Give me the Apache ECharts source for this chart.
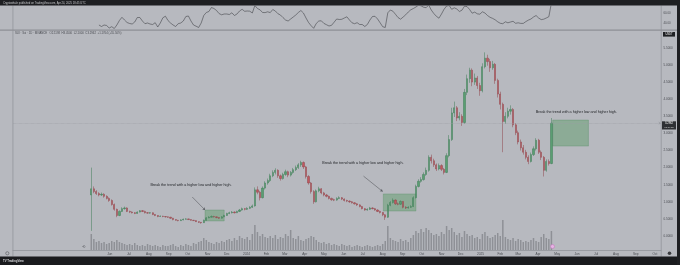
<!DOCTYPE html>
<html><head><meta charset="utf-8">
<script src="https://cdn.jsdelivr.net/npm/echarts@6/dist/echarts.min.js"></script>
<style>html,body{margin:0;padding:0;background:#b7b9bf;}#c{width:680px;height:265px;}</style>
</head><body><div id="c"></div>
<script>
// ---------- data ----------
const axisStart = '2023-01-01';
const axisEnd = '2025-10-10';
const firstCandleDate = '2023-05-03';
const candleStepDays = 4;
const firstOpen = 1.20;
const closes = [
1.38,1.30,1.24,1.20,1.22,1.16,1.10,1.04,0.92,0.78,
0.60,0.72,0.80,0.82,0.72,0.70,0.68,0.66,0.70,0.74,
0.72,0.68,0.67,0.68,0.63,0.60,0.57,0.58,0.57,0.56,
0.55,0.52,0.48,0.46,0.45,0.47,0.49,0.50,0.48,0.46,
0.45,0.42,0.40,0.39,0.46,0.53,0.55,0.57,0.56,0.54,
0.52,0.56,0.60,0.66,0.68,0.70,0.68,0.72,0.76,0.80,
0.78,0.81,0.84,0.88,1.35,1.28,1.12,1.40,1.55,1.62,
1.76,1.86,1.92,1.76,1.68,1.80,1.88,1.78,1.86,1.94,
2.00,2.08,2.15,2.02,1.74,1.55,1.30,1.00,1.32,1.38,
1.26,1.20,1.16,1.10,1.06,1.05,1.10,1.12,1.08,1.04,
1.02,1.00,0.97,0.94,0.91,0.86,0.80,0.76,0.78,0.82,
0.80,0.76,0.72,0.69,0.62,0.55,0.90,0.98,1.05,0.94,
0.93,1.01,0.84,0.82,0.84,0.86,1.12,1.45,1.60,1.65,
1.80,1.92,2.30,2.20,2.08,1.96,2.06,1.95,1.86,2.35,
2.82,3.60,3.75,3.45,3.50,3.32,4.20,4.60,4.85,4.50,
4.62,4.40,4.25,4.95,5.20,5.10,4.92,5.02,4.55,4.15,
3.85,3.35,3.50,3.65,3.70,3.25,3.02,2.75,2.58,2.45,
2.30,2.18,2.38,2.55,2.80,2.45,2.30,1.92,2.18,2.12,
3.30];
const highs = [
2.00,1.45,1.34,1.28,1.27,1.25,1.19,1.13,1.07,0.95,
0.80,0.75,0.84,0.86,0.84,0.74,0.72,0.70,0.72,0.76,
0.76,0.74,0.70,0.70,0.69,0.64,0.61,0.60,0.59,0.58,
0.57,0.56,0.53,0.49,0.47,0.49,0.51,0.52,0.51,0.49,
0.47,0.46,0.43,0.41,0.48,0.55,0.58,0.60,0.59,0.57,
0.55,0.58,0.62,0.68,0.71,0.73,0.72,0.74,0.79,0.83,
0.82,0.84,0.87,0.92,1.42,1.45,1.32,1.45,1.60,1.68,
1.82,1.92,1.98,1.95,1.80,1.85,1.94,1.91,1.90,1.99,
2.06,2.13,2.20,2.18,2.05,1.78,1.58,1.34,1.36,1.44,
1.40,1.29,1.23,1.18,1.12,1.09,1.13,1.16,1.14,1.10,
1.06,1.04,1.02,0.99,0.96,0.93,0.88,0.82,0.81,0.85,
0.84,0.82,0.78,0.74,0.70,0.64,0.94,1.02,1.10,1.07,
0.98,1.04,1.02,0.87,0.87,0.90,1.16,1.50,1.66,1.72,
1.86,2.00,2.36,2.38,2.26,2.12,2.12,2.10,1.99,2.42,
2.95,3.75,3.93,3.80,3.62,3.56,4.30,4.72,4.92,4.90,
4.75,4.68,4.48,5.05,5.37,5.30,5.18,5.12,5.06,4.60,
4.22,3.90,3.62,3.75,3.82,3.74,3.30,3.08,2.82,2.66,
2.52,2.36,2.44,2.62,2.86,2.84,2.50,2.34,2.24,2.24,
3.45];
const lows = [
0.15,1.25,1.20,1.16,1.17,1.12,1.07,1.00,0.89,0.74,
0.55,0.58,0.70,0.77,0.70,0.67,0.66,0.64,0.65,0.69,
0.70,0.66,0.65,0.65,0.61,0.58,0.55,0.56,0.55,0.54,
0.53,0.50,0.46,0.45,0.43,0.44,0.46,0.48,0.47,0.45,
0.44,0.41,0.38,0.36,0.38,0.45,0.52,0.54,0.54,0.52,
0.50,0.51,0.55,0.59,0.64,0.66,0.66,0.67,0.70,0.74,
0.75,0.76,0.79,0.82,0.86,1.22,1.04,1.10,1.36,1.50,
1.58,1.72,1.80,1.70,1.62,1.65,1.76,1.72,1.74,1.82,
1.90,1.96,2.02,1.96,1.68,1.50,1.24,0.94,0.98,1.28,
1.22,1.16,1.13,1.07,1.03,1.02,1.03,1.08,1.05,1.01,
0.99,0.97,0.95,0.92,0.88,0.84,0.78,0.74,0.74,0.76,
0.78,0.74,0.70,0.66,0.58,0.47,0.53,0.87,0.95,0.91,
0.90,0.91,0.81,0.79,0.80,0.82,0.85,1.10,1.42,1.56,
1.62,1.76,1.88,2.12,2.02,1.90,1.92,1.90,1.80,1.84,
2.30,2.78,3.48,3.36,3.38,3.22,3.28,4.12,4.48,4.38,
4.42,4.30,4.10,4.20,4.90,4.98,4.80,4.86,4.45,4.05,
3.70,2.45,3.28,3.44,3.55,3.18,2.95,2.68,2.50,2.38,
2.24,2.10,2.15,2.34,2.50,2.40,2.22,1.74,1.88,2.06,
2.10];
const volumes = [
16,11,8,9,7,8,6,7,9,8,
10,8,7,6,5,6,5,7,5,4,
5,4,6,5,4,5,4,3,5,4,
4,5,6,4,3,5,4,6,5,4,
7,6,8,9,12,10,8,7,6,8,
7,9,8,10,11,9,12,10,14,12,
11,13,10,16,25,18,14,16,13,12,
14,12,15,11,13,12,16,14,20,12,
11,14,10,9,11,12,14,13,10,8,
7,8,6,7,5,6,5,4,6,5,
4,5,3,4,5,4,3,4,5,4,
3,4,5,4,6,9,24,12,10,9,
8,11,9,10,8,12,15,19,17,21,
18,22,20,17,15,16,14,18,16,24,
20,22,18,15,17,13,19,16,14,15,
12,13,11,16,18,14,12,13,15,17,
14,30,13,11,10,12,9,11,10,8,
9,8,10,12,9,8,13,16,12,11,
19];
const rsiStartCandle = 3;
const rsiValues = [
36,33,36,35,30,32.6,29,
36,45,51.4,46,41,39,38,42,51,51,
44,38.6,40,38,37,40.6,32,40,50.4,53.6,
45,40,36,33,38.6,40,44,53,54,44,
36,33.6,31,40,55,61,63,71,69,65,
58.8,56.4,58,58,57,60.4,55,58,64,67.4,
63.4,64,63.6,60,75,69,66.4,61,60.8,62.4,
60.8,67,64,58.6,56,50.8,46,44,48,52,
56,61,65,60,50,41,34.6,29.4,39,44,
44.4,39.2,36.6,34,35.4,41.6,48,47,47.4,50,
52.4,46,40.4,38.6,40.6,37,37,33,37,46,
53,53.4,48,40.4,32.6,31,60.4,66,63.6,57.4,
51,47.6,52,56.4,62,66.4,69,72,75.6,74.4,
71.6,70.6,76,66,59,53.4,49.6,58,67.4,74,
75,67.4,70.4,68,63,65.6,73.6,72.8,67,59.6,
61.8,58.4,57.6,62.4,60,55,51.4,49.2,46.4,42.4,
39.4,38.6,42.4,40.4,42,43.4,39.4,40.4,39.2,39.2,
42.8,45.8,48,52,55,50,46.8,47.6,50,52.6,
80];
const monthNames = ['Jan','Feb','Mar','Apr','May','Jun','Jul','Aug','Sep','Oct','Nov','Dec'];
const firstLabelDate = '2023-06-01';
const noteText = 'Break the trend with a higher low and higher high.';
const boxes = [
  {from:'2023-10-28', to:'2023-11-27', low:0.44, high:0.76},
  {from:'2024-08-02', to:'2024-09-22', low:0.73, high:1.23},
  {from:'2025-04-24', to:'2025-06-19', low:2.63, high:3.39}
];
const notes = [
  {date:'2023-10-06', price:1.49},
  {date:'2024-07-01', price:2.13},
  {date:'2025-05-31', price:3.63}
];
const arrows = [
  {from:['2023-10-08',1.14], to:['2023-10-28',0.76]},
  {from:['2024-07-02',1.75], to:['2024-08-01',1.30]}
];
const lastPrice = 3.2962;
const rsiLabels = ['60.00','40.00'];

// ---------- build ----------
const DAY = 86400000;
const t0 = Date.parse(axisStart + 'T00:00:00Z');
const nDays = Math.round((Date.parse(axisEnd + 'T00:00:00Z') - t0) / DAY) + 1;
const categories = [];
for (let k = 0; k < nDays; k++) categories.push(new Date(t0 + k * DAY).toISOString().slice(0, 10));
const idx = s => Math.round((Date.parse(s + 'T00:00:00Z') - t0) / DAY);
const k0 = idx(firstCandleDate);
const kLabel = idx(firstLabelDate);
const candleData = closes.map((c, i) => [k0 + i * candleStepDays, i === 0 ? firstOpen : closes[i - 1], c, lows[i], highs[i]]);
const volData = volumes.map((v, i) => [k0 + i * candleStepDays, v]);
const rsiData = rsiValues.map((v, j) => [k0 + (rsiStartCandle + j) * candleStepDays, v]);

const FONT = 'Liberation Sans, Arial, sans-serif';
const chart = echarts.init(document.getElementById('c'), null, {renderer: 'canvas'});
const gridCommon = {left: 13, right: 19, outerBoundsMode: 'none', containLabel: false};
const hiddenX = gi => ({type: 'category', gridIndex: gi, data: categories, show: false, boundaryGap: true});

chart.setOption({
  animation: false,
  backgroundColor: '#b7b9bf',
  textStyle: {fontFamily: FONT},
  grid: [
    Object.assign({top: 30.8, height: 222.3}, gridCommon),
    Object.assign({top: 190, height: 60}, gridCommon),
    Object.assign({top: 6, height: 23.5}, gridCommon)
  ],
  xAxis: [
    hiddenX(0),
    {type: 'category', gridIndex: 1, data: categories, boundaryGap: true,
     axisLine: {show: true, lineStyle: {color: '#8d8f95', width: 0.7}},
     axisTick: {show: false},
     axisLabel: {
       interval: (i, v) => i >= kLabel && v.slice(8, 10) === '01',
       formatter: v => { const m = +v.slice(5, 7); return m === 1 ? v.slice(0, 4) : monthNames[m - 1]; },
       fontSize: 3.2, color: '#4a4c52', margin: 2.2, fontFamily: FONT
     }},
    hiddenX(2)
  ],
  yAxis: [
    {type: 'value', gridIndex: 0, position: 'right', min: -0.5, max: 6, interval: 0.5,
     splitLine: {show: false}, axisLine: {show: false}, axisTick: {show: false},
     axisLabel: {formatter: v => (v < 0 || v > 5.5) ? '' : v.toFixed(4), fontSize: 3, color: '#4a4c52', margin: 2.5, fontFamily: FONT}},
    {type: 'value', gridIndex: 1, min: 0, max: 60, show: false},
    {type: 'value', gridIndex: 2, min: 27, max: 74, show: false}
  ],
  series: [
    {type: 'bar', xAxisIndex: 1, yAxisIndex: 1, data: volData, encode: {x: 0, y: 1},
     barWidth: 1.5, itemStyle: {color: '#8e9096'}, z: 1, silent: true},
    {type: 'candlestick', xAxisIndex: 0, yAxisIndex: 0, data: candleData, encode: {x: 0, y: [1, 2, 3, 4]},
     barWidth: 1.7, z: 3, silent: true,
     itemStyle: {color: '#5a9e72', color0: '#c2585f', borderColor: '#3f7d57', borderColor0: '#8f444a', borderWidth: 0.5},
     markArea: {silent: true,
       itemStyle: {color: 'rgba(70,150,85,0.38)', borderColor: 'rgba(60,130,75,0.5)', borderWidth: 0.5},
       data: boxes.map(b => [{coord: [idx(b.from), b.high]}, {coord: [idx(b.to), b.low]}])},
     markLine: {silent: true, symbol: ['none', 'arrow'], symbolSize: 2.5, label: {show: false},
       lineStyle: {color: '#5a5c62', width: 0.6, type: 'solid'},
       data: arrows.map(a => [{coord: [idx(a.from[0]), a.from[1]]}, {coord: [idx(a.to[0]), a.to[1]]}])
         .concat([{yAxis: lastPrice, symbol: 'none', lineStyle: {color: '#9c9ea4', width: 0.6, type: 'dotted'}}])},
     markPoint: {silent: true, symbol: 'circle', symbolSize: 1, itemStyle: {color: 'rgba(0,0,0,0)'},
       label: {show: true, position: 'inside', formatter: noteText, fontSize: 3.7, color: '#222428', fontFamily: FONT},
       data: notes.map(n => ({coord: [idx(n.date), n.price]}))}
    },
    {type: 'line', xAxisIndex: 2, yAxisIndex: 2, data: rsiData, encode: {x: 0, y: 1},
     showSymbol: false, lineStyle: {color: '#45474c', width: 0.6}, z: 3, silent: true, clip: true}
  ],
  graphic: [
    {type: 'rect', shape: {x: 12.6, y: 5.5, width: 0.7, height: 251}, style: {fill: '#8e9096'}, z: 50},
    {type: 'rect', shape: {x: 0, y: 29.6, width: 677, height: 1.2}, style: {fill: '#8e9096'}, z: 50},
    {type: 'rect', shape: {x: 660.8, y: 5.5, width: 0.7, height: 251}, style: {fill: '#8e9096'}, z: 50},
    {type: 'rect', shape: {x: 0, y: 0, width: 680, height: 5.5}, style: {fill: '#1e1f22'}, z: 100},
    {type: 'text', x: 3, y: 1.4, style: {text: 'Cryptowhale published on TradingView.com, Apr 24, 2025 18:45 UTC', fill: '#c9cacd', font: '2.7px ' + FONT}, z: 101},
    {type: 'rect', shape: {x: 0, y: 256.5, width: 680, height: 8.5}, style: {fill: '#1a1b1e'}, z: 100},
    {type: 'text', x: 3, y: 259.3, style: {text: 'TV TradingView', fill: '#d8d9dc', font: 'bold 2.8px ' + FONT}, z: 101},
    {type: 'rect', shape: {x: 677, y: 0, width: 3, height: 265}, style: {fill: '#1e1f22'}, z: 100},
    {type: 'text', x: 15, y: 31.8, style: {text: 'SUI · Sui · 1D · BINANCE   O2.1198  H3.4500  L2.1000  C3.2962  +1.1764 (+55.50%)', fill: '#4a4c52', font: '2.8px ' + FONT}, z: 60},
    {type: 'rect', shape: {x: 663, y: 32, width: 12, height: 4.6}, style: {fill: '#1e1f22'}, z: 60},
    {type: 'text', x: 669, y: 34.3, style: {text: 'USDT', fill: '#ffffff', font: '2.6px ' + FONT, align: 'center', verticalAlign: 'middle'}, z: 61},
    {type: 'rect', shape: {x: 662, y: 121.3, width: 14, height: 8.2}, style: {fill: '#2e3034'}, z: 60},
    {type: 'text', x: 669, y: 123.5, style: {text: lastPrice.toFixed(4), fill: '#ffffff', font: '2.7px ' + FONT, align: 'center', verticalAlign: 'middle'}, z: 61},
    {type: 'text', x: 669, y: 127.3, style: {text: '05:14:22', fill: '#d0d0d0', font: '2.4px ' + FONT, align: 'center', verticalAlign: 'middle'}, z: 61},
    {type: 'text', x: 663.5, y: 13, style: {text: rsiLabels[0], fill: '#4a4c52', font: '2.8px ' + FONT, verticalAlign: 'middle'}, z: 60},
    {type: 'text', x: 663.5, y: 23, style: {text: rsiLabels[1], fill: '#4a4c52', font: '2.8px ' + FONT, verticalAlign: 'middle'}, z: 60},
    {type: 'circle', shape: {cx: 552.5, cy: 246.5, r: 2}, style: {fill: '#e7b3e4', stroke: '#c37bbd', lineWidth: 0.6}, z: 60},
    {type: 'circle', shape: {cx: 7.3, cy: 253.3, r: 1.6}, style: {fill: 'none', stroke: '#55575c', lineWidth: 0.6}, z: 60},
    {type: 'circle', shape: {cx: 669.5, cy: 253.3, r: 1.8}, style: {fill: '#3a3b3f'}, z: 60},
    {type: 'text', x: 83, y: 246.5, style: {text: '⟲', fill: '#55575c', font: '4px ' + FONT, align: 'center', verticalAlign: 'middle'}, z: 60}
  ]
});
</script></body></html>
